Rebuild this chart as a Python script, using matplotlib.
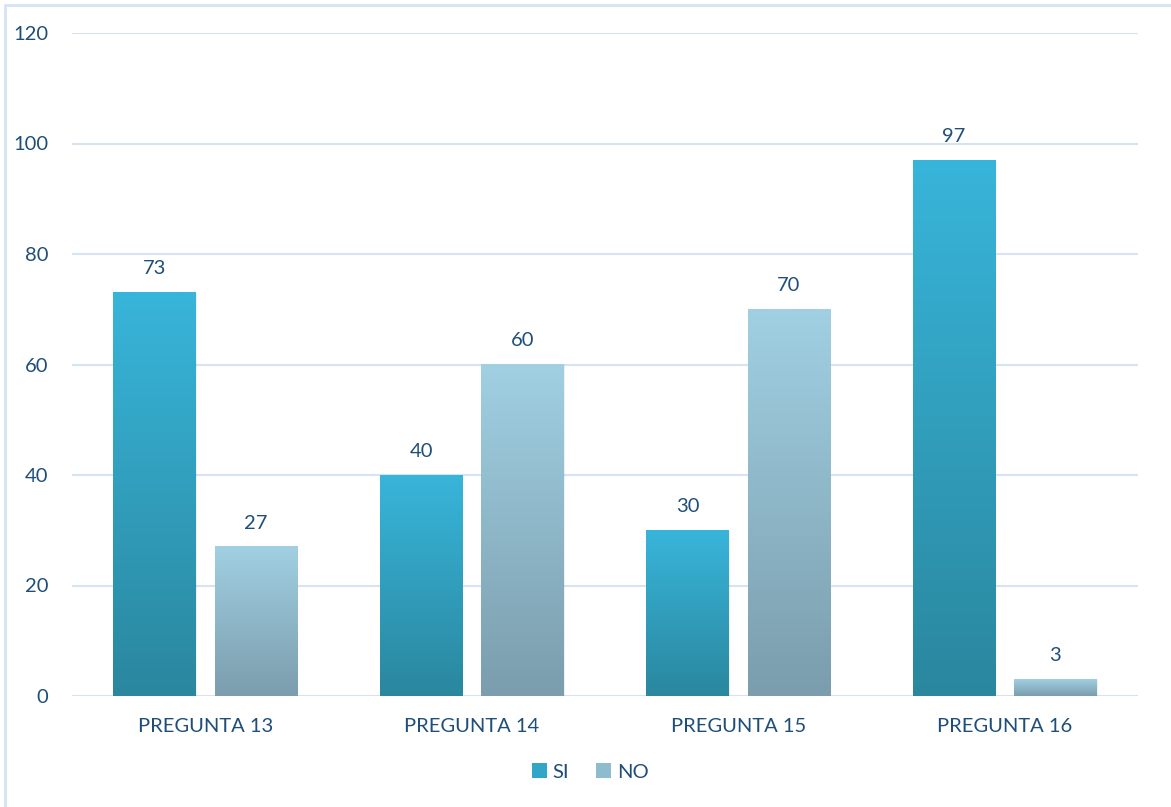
import matplotlib.pyplot as plt
import matplotlib.colors as mcolors
import numpy as np
from matplotlib.patches import Rectangle, Patch

# data
preguntas = ["PREGUNTA 13", "PREGUNTA 14", "PREGUNTA 15", "PREGUNTA 16"]
si = [73, 40, 30, 97]
no = [27, 60, 70, 3]

text_color = "#1F4E79"
grid_color = "#D6E3F3"
font_size = 14.5

plt.rcParams['font.family'] = ['Lato', 'DejaVu Sans']

# gradients bottom -> top
si_cmap = mcolors.LinearSegmentedColormap.from_list("si", ["#2A879E", "#38B5DA"])
no_cmap = mcolors.LinearSegmentedColormap.from_list("no", ["#7B9DAD", "#A0D0E2"])

fig = plt.figure(figsize=(11.71, 8.07), dpi=100)
ax = fig.add_axes([72/1171, 1-696/807, (1138-72)/1171, (696-33)/807])

# outer frame
fig.patches.append(Rectangle((5/1171, -0.01), 1.02, 1-5/807+0.01, transform=fig.transFigure,
                             fill=False, edgecolor="#D6E3F3", linewidth=2))

x = np.arange(len(preguntas))
width = 0.31
offset = 0.19
grad = np.linspace(0, 1, 256).reshape(-1, 1)

def gradient_bar(xc, h, cmap):
    # soft shadow
    ax.add_patch(Rectangle((xc - width/2 + 0.004, -0.35), width, h + 0.3,
                           facecolor="#000000", alpha=0.06, edgecolor="none", zorder=2))
    ax.imshow(grad, cmap=cmap, aspect="auto", origin="lower",
              extent=(xc - width/2, xc + width/2, 0, h), zorder=3)
    ax.text(xc, h + 4.3, str(h), ha="center", va="center", color=text_color, fontsize=font_size, zorder=4)

for i in range(len(preguntas)):
    gradient_bar(x[i] - offset, si[i], si_cmap)
    gradient_bar(x[i] + offset, no[i], no_cmap)

ax.set_xlim(-0.5, len(preguntas) - 0.5)
ax.set_ylim(0, 120)
ax.set_yticks(range(0, 121, 20))
ax.set_xticks(x)
ax.set_xticklabels(preguntas)
ax.yaxis.grid(True, color=grid_color, linewidth=1.5, zorder=0)
ax.set_axisbelow(True)
for s in ax.spines.values():
    s.set_visible(False)
ax.tick_params(axis="both", length=0, labelsize=font_size, colors=text_color)
ax.tick_params(axis="x", pad=16)
ax.tick_params(axis="y", pad=17)

# legend
handles = [Patch(facecolor="#32A6C6", label="SI"), Patch(facecolor="#8EBBCD", label="NO")]
leg = fig.legend(handles=handles, loc="center", bbox_to_anchor=(590/1171, 1-772/807), ncol=2,
                 frameon=False, fontsize=font_size, handlelength=0.75, handleheight=0.75,
                 handletextpad=0.3, columnspacing=1.3)
for t in leg.get_texts():
    t.set_color(text_color)

fig.savefig("out.png", dpi=100)
